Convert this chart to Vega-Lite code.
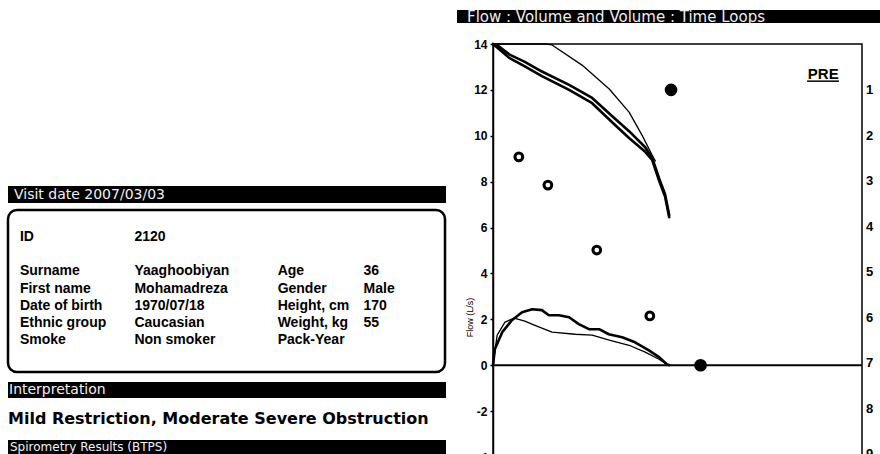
{
  "$schema": "https://vega.github.io/schema/vega-lite/v6.json",
  "padding": {"left": 6, "top": 0, "right": 0, "bottom": 0},
  "background": "white",
  "spacing": 0,
  "bounds": "full",
  "config": {
    "view": {"stroke": null},
    "font": "Liberation Sans"
  },
  "datasets": {
    "patient": [
      {"row": "ID", "column": "label", "entry": "ID"},
      {"row": "ID", "column": "value", "entry": "2120"},
      {"row": "Surname", "column": "label", "entry": "Surname"},
      {"row": "Surname", "column": "value", "entry": "Yaaghoobiyan"},
      {"row": "Surname", "column": "label2", "entry": "Age"},
      {"row": "Surname", "column": "value2", "entry": "36"},
      {"row": "First name", "column": "label", "entry": "First name"},
      {"row": "First name", "column": "value", "entry": "Mohamadreza"},
      {"row": "First name", "column": "label2", "entry": "Gender"},
      {"row": "First name", "column": "value2", "entry": "Male"},
      {"row": "Date of birth", "column": "label", "entry": "Date of birth"},
      {"row": "Date of birth", "column": "value", "entry": "1970/07/18"},
      {"row": "Date of birth", "column": "label2", "entry": "Height, cm"},
      {"row": "Date of birth", "column": "value2", "entry": "170"},
      {"row": "Ethnic group", "column": "label", "entry": "Ethnic group"},
      {"row": "Ethnic group", "column": "value", "entry": "Caucasian"},
      {"row": "Ethnic group", "column": "label2", "entry": "Weight, kg"},
      {"row": "Ethnic group", "column": "value2", "entry": "55"},
      {"row": "Smoke", "column": "label", "entry": "Smoke"},
      {"row": "Smoke", "column": "value", "entry": "Non smoker"},
      {"row": "Smoke", "column": "label2", "entry": "Pack-Year"}
    ],
    "loops": [
      {"curve": "exp1", "trace": "Measured", "i": 0, "vol": 0, "flow": 14},
      {"curve": "exp1", "trace": "Measured", "i": 1, "vol": 0.09, "flow": 13.95},
      {"curve": "exp1", "trace": "Measured", "i": 2, "vol": 0.35, "flow": 13.55},
      {"curve": "exp1", "trace": "Measured", "i": 3, "vol": 0.69, "flow": 13.22},
      {"curve": "exp1", "trace": "Measured", "i": 4, "vol": 1.06, "flow": 12.8},
      {"curve": "exp1", "trace": "Measured", "i": 5, "vol": 1.65, "flow": 12.22},
      {"curve": "exp1", "trace": "Measured", "i": 6, "vol": 2.15, "flow": 11.65},
      {"curve": "exp1", "trace": "Measured", "i": 7, "vol": 2.64, "flow": 10.75},
      {"curve": "exp1", "trace": "Measured", "i": 8, "vol": 2.95, "flow": 10.2},
      {"curve": "exp1", "trace": "Measured", "i": 9, "vol": 3.3, "flow": 9.5},
      {"curve": "exp1", "trace": "Measured", "i": 10, "vol": 3.45, "flow": 9.05},
      {"curve": "exp1", "trace": "Measured", "i": 11, "vol": 3.6, "flow": 8.15},
      {"curve": "exp1", "trace": "Measured", "i": 12, "vol": 3.73, "flow": 7.45},
      {"curve": "exp1", "trace": "Measured", "i": 13, "vol": 3.82, "flow": 6.55},
      {"curve": "exp2", "trace": "Measured", "i": 0, "vol": 0, "flow": 14},
      {"curve": "exp2", "trace": "Measured", "i": 1, "vol": 0.09, "flow": 13.85},
      {"curve": "exp2", "trace": "Measured", "i": 2, "vol": 0.35, "flow": 13.4},
      {"curve": "exp2", "trace": "Measured", "i": 3, "vol": 0.69, "flow": 13.02},
      {"curve": "exp2", "trace": "Measured", "i": 4, "vol": 1.06, "flow": 12.6},
      {"curve": "exp2", "trace": "Measured", "i": 5, "vol": 1.65, "flow": 12.0},
      {"curve": "exp2", "trace": "Measured", "i": 6, "vol": 2.15, "flow": 11.42},
      {"curve": "exp2", "trace": "Measured", "i": 7, "vol": 2.64, "flow": 10.48},
      {"curve": "exp2", "trace": "Measured", "i": 8, "vol": 2.95, "flow": 9.9},
      {"curve": "exp2", "trace": "Measured", "i": 9, "vol": 3.3, "flow": 9.3},
      {"curve": "exp2", "trace": "Measured", "i": 10, "vol": 3.45, "flow": 8.95},
      {"curve": "exp2", "trace": "Measured", "i": 11, "vol": 3.6, "flow": 8.05},
      {"curve": "exp2", "trace": "Measured", "i": 12, "vol": 3.73, "flow": 7.35},
      {"curve": "exp2", "trace": "Measured", "i": 13, "vol": 3.82, "flow": 6.45},
      {"curve": "expRef", "trace": "Reference", "i": 0, "vol": 0, "flow": 14},
      {"curve": "expRef", "trace": "Reference", "i": 1, "vol": 1.15, "flow": 14},
      {"curve": "expRef", "trace": "Reference", "i": 2, "vol": 1.28, "flow": 13.96},
      {"curve": "expRef", "trace": "Reference", "i": 3, "vol": 1.93, "flow": 13.08},
      {"curve": "expRef", "trace": "Reference", "i": 4, "vol": 2.52, "flow": 12.04},
      {"curve": "expRef", "trace": "Reference", "i": 5, "vol": 2.95, "flow": 11.03},
      {"curve": "expRef", "trace": "Reference", "i": 6, "vol": 3.23, "flow": 10.03},
      {"curve": "expRef", "trace": "Reference", "i": 7, "vol": 3.45, "flow": 9.16},
      {"curve": "expRef", "trace": "Reference", "i": 8, "vol": 3.52, "flow": 8.9},
      {"curve": "loop1", "trace": "Measured", "i": 0, "vol": 0, "flow": 0},
      {"curve": "loop1", "trace": "Measured", "i": 1, "vol": 0.04, "flow": 0.7},
      {"curve": "loop1", "trace": "Measured", "i": 2, "vol": 0.2, "flow": 1.44},
      {"curve": "loop1", "trace": "Measured", "i": 3, "vol": 0.41, "flow": 1.96},
      {"curve": "loop1", "trace": "Measured", "i": 4, "vol": 0.63, "flow": 2.31},
      {"curve": "loop1", "trace": "Measured", "i": 5, "vol": 0.85, "flow": 2.44},
      {"curve": "loop1", "trace": "Measured", "i": 6, "vol": 1.06, "flow": 2.4},
      {"curve": "loop1", "trace": "Measured", "i": 7, "vol": 1.21, "flow": 2.18},
      {"curve": "loop1", "trace": "Measured", "i": 8, "vol": 1.43, "flow": 2.18},
      {"curve": "loop1", "trace": "Measured", "i": 9, "vol": 1.65, "flow": 2.09},
      {"curve": "loop1", "trace": "Measured", "i": 10, "vol": 1.86, "flow": 1.79},
      {"curve": "loop1", "trace": "Measured", "i": 11, "vol": 2.08, "flow": 1.57},
      {"curve": "loop1", "trace": "Measured", "i": 12, "vol": 2.3, "flow": 1.57},
      {"curve": "loop1", "trace": "Measured", "i": 13, "vol": 2.51, "flow": 1.35},
      {"curve": "loop1", "trace": "Measured", "i": 14, "vol": 2.8, "flow": 1.22},
      {"curve": "loop1", "trace": "Measured", "i": 15, "vol": 3.08, "flow": 1.0},
      {"curve": "loop1", "trace": "Measured", "i": 16, "vol": 3.38, "flow": 0.65},
      {"curve": "loop1", "trace": "Measured", "i": 17, "vol": 3.6, "flow": 0.35},
      {"curve": "loop1", "trace": "Measured", "i": 18, "vol": 3.77, "flow": 0.04},
      {"curve": "loop1", "trace": "Measured", "i": 19, "vol": 3.82, "flow": 0},
      {"curve": "loop2", "trace": "Reference", "i": 0, "vol": 0, "flow": 0},
      {"curve": "loop2", "trace": "Reference", "i": 1, "vol": 0.09, "flow": 1.31},
      {"curve": "loop2", "trace": "Reference", "i": 2, "vol": 0.26, "flow": 1.88},
      {"curve": "loop2", "trace": "Reference", "i": 3, "vol": 0.46, "flow": 2.05},
      {"curve": "loop2", "trace": "Reference", "i": 4, "vol": 0.69, "flow": 1.92},
      {"curve": "loop2", "trace": "Reference", "i": 5, "vol": 0.91, "flow": 1.74},
      {"curve": "loop2", "trace": "Reference", "i": 6, "vol": 1.28, "flow": 1.44},
      {"curve": "loop2", "trace": "Reference", "i": 7, "vol": 1.78, "flow": 1.35},
      {"curve": "loop2", "trace": "Reference", "i": 8, "vol": 2.15, "flow": 1.31},
      {"curve": "loop2", "trace": "Reference", "i": 9, "vol": 2.52, "flow": 1.09},
      {"curve": "loop2", "trace": "Reference", "i": 10, "vol": 2.95, "flow": 0.87},
      {"curve": "loop2", "trace": "Reference", "i": 11, "vol": 3.3, "flow": 0.57},
      {"curve": "loop2", "trace": "Reference", "i": 12, "vol": 3.6, "flow": 0.26},
      {"curve": "loop2", "trace": "Reference", "i": 13, "vol": 3.73, "flow": 0.09},
      {"curve": "loop2", "trace": "Reference", "i": 14, "vol": 3.77, "flow": 0}
    ],
    "markers": [
      {"kind": "marker", "vol": 0.56, "flow": 9.08},
      {"kind": "marker", "vol": 1.19, "flow": 7.85},
      {"kind": "marker", "vol": 2.25, "flow": 5.02},
      {"kind": "marker", "vol": 3.4, "flow": 2.15},
      {"kind": "target", "vol": 3.86, "flow": 12.0},
      {"kind": "target", "vol": 4.5, "flow": 0}
    ],
    "trials": [
      {"n": "1"}, {"n": "2"}, {"n": "3"}, {"n": "4"}, {"n": "5"},
      {"n": "6"}, {"n": "7"}, {"n": "8"}, {"n": "9"}
    ]
  },
  "hconcat": [
    {
      "spacing": 0,
      "bounds": "flush",
      "vconcat": [
        {"width": 449, "height": 186, "data": {"values": []}, "mark": "point"},
        {
          "width": 438, "height": 17,
          "view": {"fill": "black", "stroke": null},
          "data": {"values": [{"heading": "Visit date 2007/03/03"}]},
          "mark": {"type": "text", "color": "#f2f2f2", "align": "left", "baseline": "middle", "dx": 6, "font": "DejaVu Sans", "fontSize": 14},
          "encoding": {
            "x": {"datum": 0, "type": "quantitative", "scale": {"domain": [0, 1]}, "axis": null},
            "text": {"field": "heading"}
          }
        },
        {"width": 10, "height": 7, "data": {"values": []}, "mark": "point"},
        {
          "width": 437, "height": 162,
          "view": {"stroke": "black", "strokeWidth": 2.5, "cornerRadius": 9},
          "data": {"name": "patient"},
          "mark": {"type": "text", "align": "left", "baseline": "middle", "font": "Liberation Sans", "fontWeight": "bold", "fontSize": 14, "color": "black"},
          "encoding": {
            "x": {
              "field": "column", "type": "nominal",
              "scale": {"type": "point", "domain": ["label", "g1", "g2", "g3", "value", "g4", "g5", "g6", "g7", "label2", "g8", "g9", "value2", "t1", "t2"], "padding": 0.63, "align": 0.33},
              "axis": null
            },
            "y": {
              "field": "row", "type": "nominal",
              "scale": {"type": "point", "domain": ["head", "ID", "gap", "Surname", "First name", "Date of birth", "Ethnic group", "Smoke", "tail"], "padding": 0.71, "align": 0.4},
              "axis": null
            },
            "text": {"field": "entry"}
          }
        },
        {"width": 10, "height": 10, "data": {"values": []}, "mark": "point"},
        {
          "width": 438, "height": 16,
          "view": {"fill": "black", "stroke": null},
          "data": {"values": [{"heading": "Interpretation"}]},
          "mark": {"type": "text", "color": "#f2f2f2", "align": "left", "baseline": "middle", "dx": 1, "font": "DejaVu Sans", "fontSize": 14},
          "encoding": {
            "x": {"datum": 0, "type": "quantitative", "scale": {"domain": [0, 1]}, "axis": null},
            "text": {"field": "heading"}
          }
        },
        {
          "width": 438, "height": 42,
          "data": {"values": [{"finding": "Mild Restriction, Moderate Severe Obstruction"}]},
          "mark": {"type": "text", "color": "black", "align": "left", "baseline": "middle", "dx": 0, "font": "DejaVu Sans", "fontWeight": "bold", "fontSize": 16},
          "encoding": {
            "x": {"datum": 0, "type": "quantitative", "scale": {"domain": [0, 1]}, "axis": null},
            "text": {"field": "finding"}
          }
        },
        {
          "width": 438, "height": 14,
          "view": {"fill": "black", "stroke": null},
          "data": {"values": [{"heading": "Spirometry Results (BTPS)"}]},
          "mark": {"type": "text", "color": "#f2f2f2", "align": "left", "baseline": "middle", "dx": 2, "font": "DejaVu Sans", "fontSize": 12},
          "encoding": {
            "x": {"datum": 0, "type": "quantitative", "scale": {"domain": [0, 1]}, "axis": null},
            "text": {"field": "heading"}
          }
        }
      ]
    },
    {
      "spacing": 0,
      "bounds": "full",
      "vconcat": [
        {"width": 10, "height": 9, "data": {"values": []}, "mark": "point"},
        {
          "width": 430, "height": 13,
          "view": {"fill": "black", "stroke": null},
          "data": {"values": [{"heading": "Flow : Volume and Volume : Time Loops"}]},
          "mark": {"type": "text", "color": "#eeeeee", "align": "left", "baseline": "middle", "dx": 10, "font": "DejaVu Sans", "fontSize": 15},
          "encoding": {
            "x": {"datum": 0, "type": "quantitative", "scale": {"domain": [0, 1]}, "axis": null},
            "text": {"field": "heading"}
          }
        },
        {"width": 10, "height": 12, "data": {"values": []}, "mark": "point"},
        {
          "spacing": 0,
          "bounds": "flush",
          "hconcat": [
            {"width": 36, "height": 10, "data": {"values": []}, "mark": "point"},
            {
              "width": 369, "height": 413,
              "view": {"stroke": "black", "strokeWidth": 1.5},
              "layer": [
                {
                  "data": {"name": "loops"},
                  "mark": {"type": "line", "color": "black", "strokeJoin": "round", "strokeCap": "round"},
                  "encoding": {
                    "x": {"field": "vol", "type": "quantitative", "scale": {"domain": [0, 8], "nice": false, "zero": false}, "axis": null},
                    "y": {
                      "field": "flow", "type": "quantitative",
                      "scale": {"domain": [-4, 14], "nice": false, "zero": false},
                      "axis": {
                        "values": [-4, -2, 0, 2, 4, 6, 8, 10, 12, 14],
                        "labelExpr": "'' + datum.value",
                        "title": "Flow (L/s)",
                        "grid": false,
                        "domainColor": "black", "domainWidth": 1.5,
                        "tickColor": "black", "tickSize": 3, "tickWidth": 1.5,
                        "labelFont": "Liberation Sans", "labelFontSize": 12, "labelFontWeight": "bold", "labelColor": "black", "labelPadding": 3,
                        "titleFont": "Liberation Sans", "titleFontSize": 9, "titleFontWeight": "normal", "titleColor": "black",
                        "titleX": -24, "titleY": 273, "titleAngle": -90, "titleAlign": "center", "titleBaseline": "middle"
                      }
                    },
                    "detail": {"field": "curve"},
                    "order": {"field": "i", "type": "quantitative"},
                    "strokeWidth": {"field": "trace", "type": "nominal", "scale": {"domain": ["Measured", "Reference"], "range": [2.6, 1.3]}, "legend": null}
                  }
                },
                {
                  "data": {"values": [{"baseline": "zero flow"}]},
                  "mark": {"type": "rule", "color": "black", "strokeWidth": 2},
                  "encoding": {
                    "x": {"datum": 0, "type": "quantitative"},
                    "x2": {"datum": 8},
                    "y": {"datum": 0, "type": "quantitative"}
                  }
                },
                {
                  "data": {"name": "markers"},
                  "transform": [{"filter": "datum.kind === 'marker'"}],
                  "mark": {"type": "point", "shape": "circle", "filled": false, "color": "black", "strokeWidth": 3, "size": 60, "opacity": 1},
                  "encoding": {
                    "x": {"field": "vol", "type": "quantitative"},
                    "y": {"field": "flow", "type": "quantitative"}
                  }
                },
                {
                  "data": {"name": "markers"},
                  "transform": [{"filter": "datum.kind === 'target'"}],
                  "mark": {"type": "point", "shape": "circle", "filled": true, "color": "black", "size": 160, "opacity": 1},
                  "encoding": {
                    "x": {"field": "vol", "type": "quantitative"},
                    "y": {"field": "flow", "type": "quantitative"}
                  }
                },
                {
                  "data": {"values": [{"tag": "PRE"}]},
                  "mark": {"type": "text", "font": "Liberation Sans", "fontWeight": "bold", "fontSize": 15, "color": "black", "align": "center", "baseline": "alphabetic"},
                  "encoding": {
                    "x": {"datum": 7.16, "type": "quantitative"},
                    "y": {"datum": 12.48, "type": "quantitative"},
                    "text": {"field": "tag"}
                  }
                },
                {
                  "data": {"values": [{"tag": "PRE"}]},
                  "mark": {"type": "rule", "color": "black", "strokeWidth": 1.5},
                  "encoding": {
                    "x": {"datum": 6.81, "type": "quantitative"},
                    "x2": {"datum": 7.5},
                    "y": {"datum": 12.38, "type": "quantitative"}
                  }
                }
              ]
            },
            {
              "width": 8, "height": 413,
              "data": {"name": "trials"},
              "mark": {"type": "text", "font": "Liberation Sans", "fontWeight": "bold", "fontSize": 13, "color": "black", "align": "left", "baseline": "middle"},
              "encoding": {
                "y": {"field": "n", "type": "ordinal", "scale": {"type": "point", "padding": 0.54, "align": 0.94}, "axis": null},
                "text": {"field": "n"}
              }
            }
          ]
        }
      ]
    }
  ]
}
